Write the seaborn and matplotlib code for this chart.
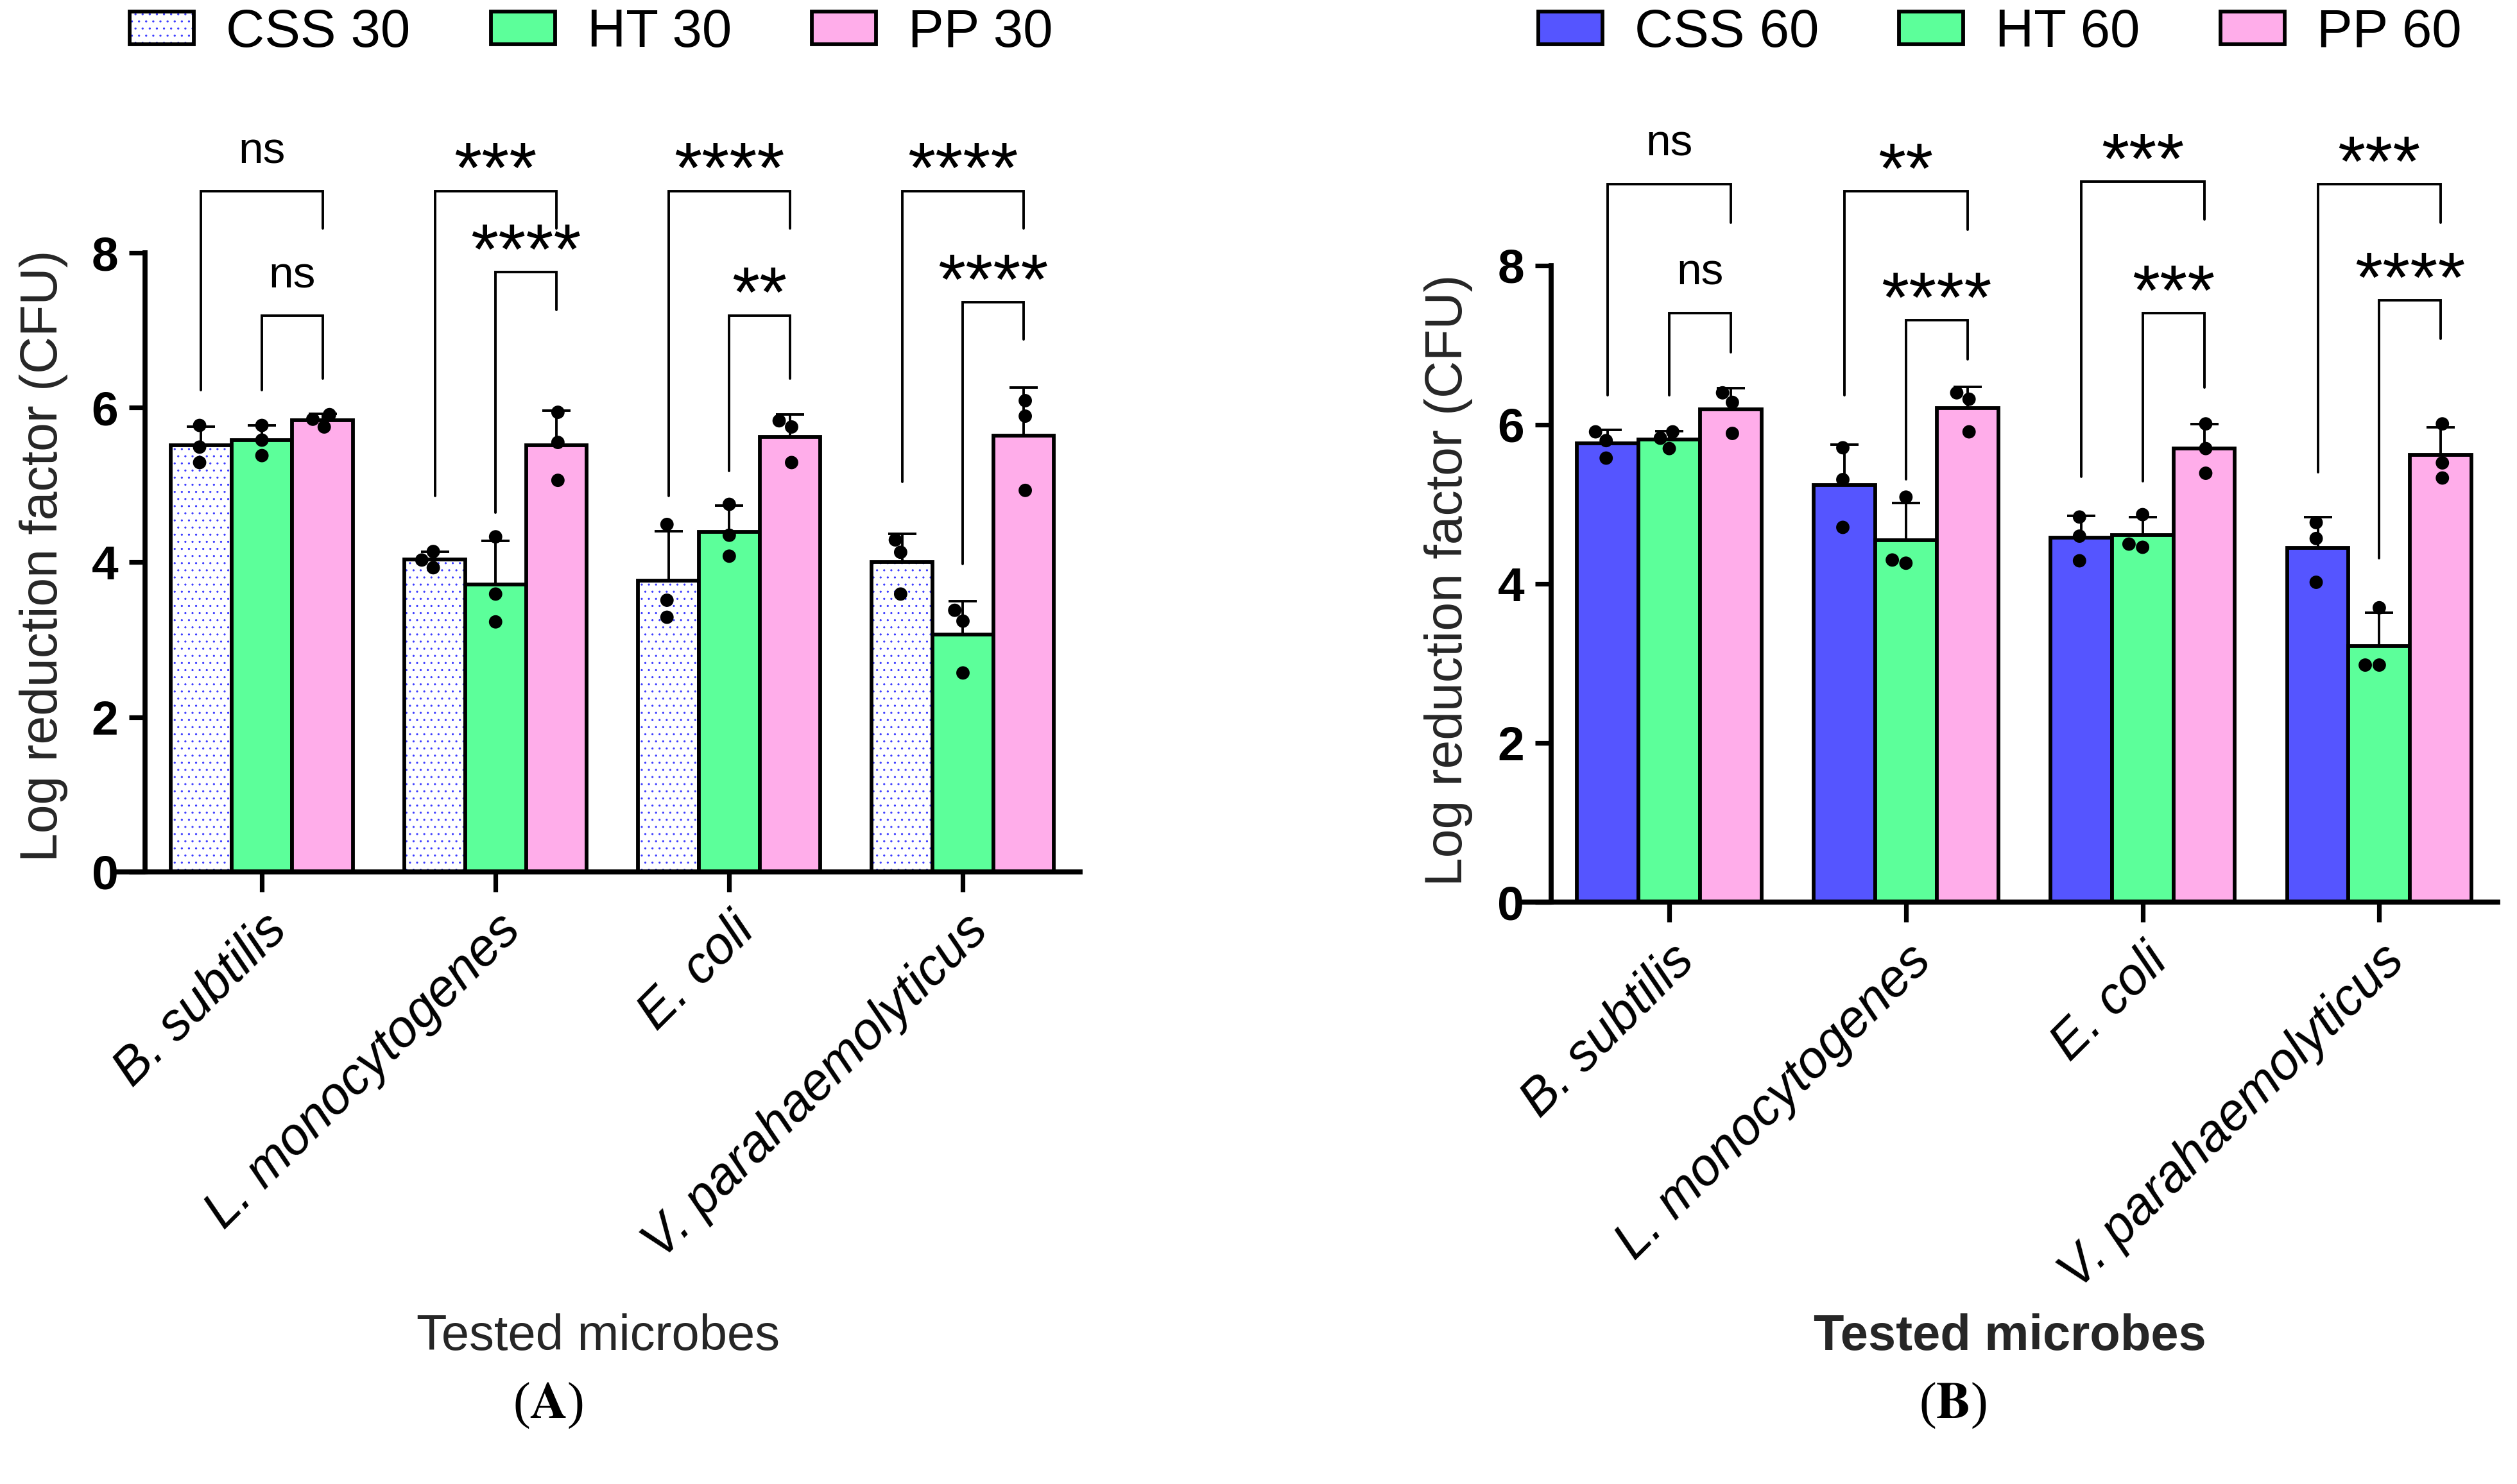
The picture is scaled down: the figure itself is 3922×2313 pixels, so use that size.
import numpy as np
import pandas as pd
import matplotlib
matplotlib.use("Agg")
import matplotlib.pyplot as plt
from matplotlib.patches import Patch, Rectangle
from matplotlib.legend_handler import HandlerTuple
import seaborn as sns

# ---- data ----
microbes = ['B. subtilis', 'L. monocytogenes', 'E. coli', 'V. parahaemolyticus']

names_a = ['CSS 30', 'HT 30', 'PP 30']
css30 = [[5.77, 5.49, 5.29], [4.14, 3.93, 4.03], [4.49, 3.51, 3.29], [4.29, 4.13, 3.59]]
ht30 = [[5.77, 5.58, 5.38], [4.33, 3.59, 3.23], [4.75, 4.35, 4.08], [3.38, 3.24, 2.57]]
pp30 = [[5.75, 5.91, 5.85], [5.94, 5.55, 5.06], [5.83, 5.75, 5.29], [6.09, 5.89, 4.93]]

names_b = ['CSS 60', 'HT 60', 'PP 60']
css60 = [[5.91, 5.58, 5.80], [5.71, 5.31, 4.71], [4.84, 4.60, 4.29], [4.77, 4.57, 4.02]]
ht60 = [[5.91, 5.70, 5.83], [5.09, 4.26, 4.30], [4.87, 4.46, 4.50], [3.70, 2.98, 2.98]]
pp60 = [[6.40, 6.28, 5.89], [6.40, 6.32, 5.91], [6.01, 5.70, 5.39], [6.01, 5.52, 5.33]]

# significance brackets: CSS vs PP (outer) and HT vs PP (inner)
outer_lab_a = ['ns', '***', '****', '****']
outer_y_a = [8.80, 8.80, 8.80, 8.80]
outer_left_a = [6.23, 4.86, 4.86, 5.04]
outer_right_a = [8.32, 8.32, 8.32, 8.32]
inner_lab_a = ['ns', '****', '**', '****']
inner_y_a = [7.19, 7.75, 7.19, 7.36]
inner_left_a = [6.23, 4.64, 5.18, 3.98]
inner_right_a = [6.38, 7.26, 6.38, 6.88]

outer_lab_b = ['ns', '**', '***', '***']
outer_y_b = [9.02, 8.93, 9.05, 9.02]
outer_left_b = [6.37, 6.37, 5.35, 5.40]
outer_right_b = [8.54, 8.45, 8.58, 8.54]
inner_lab_b = ['ns', '****', '***', '****']
inner_y_b = [7.40, 7.31, 7.40, 7.56]
inner_left_b = [6.37, 5.31, 5.29, 4.32]
inner_right_b = [6.91, 6.82, 6.47, 7.08]

sns.set_style("ticks", {"axes.edgecolor": "black", "xtick.color": "black",
                        "ytick.color": "black", "text.color": "black",
                        "axes.spines.right": False, "axes.spines.top": False})
plt.rcParams['font.family'] = ['Liberation Sans', 'DejaVu Sans']
plt.rcParams['hatch.linewidth'] = 0.35
plt.rcParams['mathtext.fontset'] = 'stix'

green = '#5CFF9A'
pink = '#FFADEA'
blue = '#5555FF'
dot_blue = '#3a3aff'


def long_df(groups, names):
    rows = []
    for name, reps in zip(names, groups):
        for m, vals in zip(microbes, reps):
            for v in vals:
                rows.append({'microbe': m, 'treatment': name, 'value': v})
    return pd.DataFrame(rows)


def bracket(ax, x0, x1, yl, yt, yr, label):
    ax.plot([x0, x0, x1, x1], [yl, yt, yt, yr], color='black', lw=1.4,
            solid_joinstyle='miter', clip_on=False, zorder=3)
    if label == 'ns':
        ax.text((x0 + x1) / 2, yt + 0.36, label, ha='center', va='baseline',
                fontsize=25, clip_on=False)
    else:
        ax.text((x0 + x1) / 2, yt - 0.02, label, ha='center', va='baseline',
                fontsize=40, clip_on=False)


def panel(ax, df, names, colors, hatch_first, br, xlabel_bold):
    sns.barplot(data=df, x='microbe', y='value', hue='treatment', order=microbes,
                hue_order=names, palette=colors, errorbar=None, width=0.78,
                edgecolor='black', linewidth=2.1, saturation=1, legend=False, ax=ax)
    stats = df.groupby(['microbe', 'treatment'])['value'].agg(['mean', 'std'])
    bars = list(ax.patches)
    step = 0.78 / 3
    for p in bars:
        cx = p.get_x() + p.get_width() / 2
        cat = int(round(cx))
        h = int(round((cx - cat) / step)) + 1
        m, sd = stats.loc[(microbes[cat], names[h])]
        ax.errorbar([cx], [m], yerr=[[0], [sd]], fmt='none', ecolor='black',
                    elinewidth=1.4, capsize=8, capthick=1.4, zorder=4)
        if hatch_first and h == 0:
            ax.add_patch(Rectangle((p.get_x(), p.get_y()), p.get_width(), p.get_height(),
                                   facecolor='white', edgecolor=dot_blue, hatch='...',
                                   lw=0, zorder=p.get_zorder() - 0.01))
            p.set_facecolor('none')
    sns.swarmplot(data=df, x='microbe', y='value', hue='treatment', order=microbes,
                  hue_order=names, dodge=True, palette={n: 'black' for n in names},
                  size=7.5, legend=False, ax=ax, zorder=5)

    o_lab, o_y, o_l, o_r, i_lab, i_y, i_l, i_r = br
    for i in range(len(microbes)):
        bracket(ax, i - step, i + step, o_l[i], o_y[i], o_r[i], o_lab[i])
        bracket(ax, i, i + step, i_l[i], i_y[i], i_r[i], i_lab[i])

    ax.set_xlim(-0.62, 3.5)
    ax.set_ylim(0, 10)
    ax.set_yticks([0, 2, 4, 6, 8])
    ax.spines['left'].set_bounds(0, 8)
    ax.spines['left'].set_position(('data', -0.5))
    ax.spines['left'].set_linewidth(2.8)
    ax.spines['bottom'].set_linewidth(2.8)
    ax.tick_params(axis='y', length=9, width=2.6, pad=6, labelsize=27)
    ax.tick_params(axis='x', length=11, width=2.6, pad=8)
    for t in ax.get_yticklabels():
        t.set_fontweight('bold')
    ax.set_xticks(range(len(microbes)))
    ax.set_xticklabels(microbes, rotation=45, ha='right', rotation_mode='anchor',
                       fontstyle='italic', fontsize=29)
    ax.set_ylabel('Log reduction factor (CFU)', fontsize=29)
    ax.set_xlabel('Tested microbes', fontsize=28,
                  fontweight='bold' if xlabel_bold else 'normal')

    handles = []
    for n, c in zip(names, colors):
        if hatch_first and n == names[0]:
            handles.append((Patch(facecolor='white', edgecolor='none'),
                            Patch(facecolor='none', edgecolor=dot_blue, hatch='...', lw=0),
                            Patch(facecolor='none', edgecolor='black', lw=2.1)))
        else:
            handles.append(Patch(facecolor=c, edgecolor='black', lw=2.1))
    return handles


fig = plt.figure(figsize=(19.61, 11.565), dpi=200)
ax_a = fig.add_axes([0.0465, 0.4126, 0.3825, 0.5212])
ax_b = fig.add_axes([0.6049, 0.3920, 0.3874, 0.5364])

df_a = long_df([css30, ht30, pp30], names_a)
df_b = long_df([css60, ht60, pp60], names_b)

h_a = panel(ax_a, df_a, names_a, ['white', green, pink], True,
            (outer_lab_a, outer_y_a, outer_left_a, outer_right_a,
             inner_lab_a, inner_y_a, inner_left_a, inner_right_a), False)
h_b = panel(ax_b, df_b, names_b, [blue, green, pink], False,
            (outer_lab_b, outer_y_b, outer_left_b, outer_right_b,
             inner_lab_b, inner_y_b, inner_left_b, inner_right_b), True)

ax_a.yaxis.set_label_coords(-0.051, 0.408)
ax_b.yaxis.set_label_coords(-0.051, 0.405)
ax_a.xaxis.set_label_coords(0.5, -0.571)
ax_b.xaxis.set_label_coords(0.5, -0.516)

for ax, hs, names, cx in [(ax_a, h_a, names_a, 367 / 1562), (ax_b, h_b, names_b, 1241 / 1562)]:
    ax.legend(hs, names, loc='center', bbox_to_anchor=(cx, 0.978),
              bbox_transform=fig.transFigure, ncol=3, frameon=False, fontsize=30,
              handlelength=1.2, handleheight=0.55, handletextpad=0.6,
              columnspacing=1.5, handler_map={tuple: HandlerTuple(ndivide=1, pad=0)})

fig.text(340 / 1562, 0.053, r'($\mathbf{A}$)', ha='center', va='center',
         fontsize=29, family='Liberation Serif')
fig.text(1212 / 1562, 0.053, r'($\mathbf{B}$)', ha='center', va='center',
         fontsize=29, family='Liberation Serif')

fig.savefig('out.png', dpi=200)
